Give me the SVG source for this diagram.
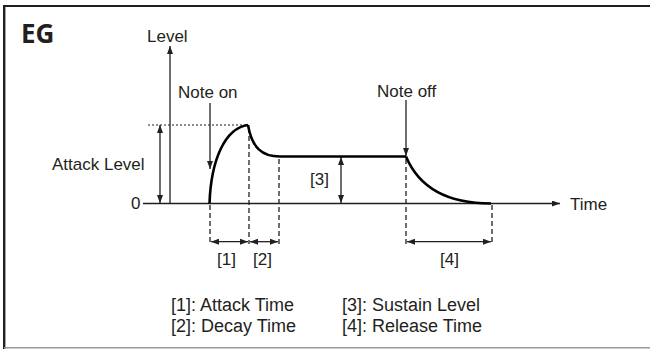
<svg xmlns="http://www.w3.org/2000/svg" width="650" height="349" viewBox="0 0 650 349">
<style>
text{font-family:"Liberation Sans",Arial,sans-serif;font-size:17px;fill:#231f20}
.leg{font-size:18px}
.ax{stroke:#231f20;stroke-width:1.3;fill:none}
.curve{stroke:#000;stroke-width:2.6;fill:none}
.dash{stroke:#231f20;stroke-width:1.3;stroke-dasharray:5 3;fill:none}
.dot{stroke:#231f20;stroke-width:1.2;stroke-dasharray:2 2;fill:none}
.arr{stroke:#231f20;stroke-width:1.3;fill:none;marker-end:url(#ah)}
.darr{stroke:#231f20;stroke-width:1.3;fill:none;marker-start:url(#ahs);marker-end:url(#ah)}
</style>
<defs>
<marker id="ah" viewBox="0 0 8 6" refX="8" refY="3" markerWidth="8" markerHeight="6" markerUnits="userSpaceOnUse" orient="auto"><path d="M0,0 L8,3 L0,6 Z" fill="#231f20"/></marker>
<marker id="ahs" viewBox="0 0 8 6" refX="0" refY="3" markerWidth="8" markerHeight="6" markerUnits="userSpaceOnUse" orient="auto"><path d="M8,0 L0,3 L8,6 Z" fill="#231f20"/></marker>
</defs>
<rect width="650" height="349" fill="#fff"/>
<g id="frame">
<line x1="3" y1="6" x2="650" y2="6" stroke="#231f20" stroke-width="2.2"/>
<line x1="4.2" y1="5" x2="4.2" y2="349" stroke="#231f20" stroke-width="2.4"/>
<line x1="4" y1="347.8" x2="650" y2="347.8" stroke="#999" stroke-width="1.6"/>
</g>
<g id="title"><text x="21" y="43" style="font-family:'Open Sans','DejaVu Sans',sans-serif;font-weight:bold;font-size:26px">EG</text></g>
<g id="connectors">
<line class="arr" x1="170" y1="203.5" x2="170" y2="46"/>
<line class="arr" x1="143" y1="203.5" x2="560" y2="203.5"/>
<line class="dot" x1="148" y1="125" x2="248" y2="125"/>
<line class="darr" x1="160" y1="125" x2="160" y2="203"/>
<line class="arr" x1="210" y1="103" x2="210" y2="169"/>
<line class="arr" x1="406" y1="100" x2="406" y2="156"/>
<line class="darr" x1="341" y1="157" x2="341" y2="203"/>
<line class="dash" x1="210" y1="205" x2="210" y2="244"/>
<line class="dash" x1="249" y1="128" x2="249" y2="244"/>
<line class="dash" x1="279" y1="159" x2="279" y2="244"/>
<line class="dash" x1="406" y1="159" x2="406" y2="244"/>
<line class="dash" x1="492" y1="205" x2="492" y2="244"/>
<line class="darr" x1="211" y1="241.7" x2="248" y2="241.7"/>
<line class="darr" x1="250" y1="241.7" x2="278" y2="241.7"/>
<line class="darr" x1="407" y1="241.7" x2="491" y2="241.7"/>
</g>
<g id="envelope">
<path class="curve" d="M209.5,203.5 C211,160 225,128 248,125"/>
<path class="curve" d="M248,125 C252,148 262,156.5 280,156.5 L406,156.5"/>
<path class="curve" d="M406,156.5 C420,190 450,203.5 491,203.5"/>
</g>
<g id="labels">
<text x="147" y="42">Level</text>
<text x="178" y="98">Note on</text>
<text x="377" y="97">Note off</text>
<text x="52" y="170">Attack Level</text>
<text x="131" y="209">0</text>
<text x="570" y="210">Time</text>
<text x="310" y="185">[3]</text>
<text x="217" y="265">[1]</text>
<text x="253" y="265">[2]</text>
<text x="440" y="265">[4]</text>
</g>
<g id="legend">
<text class="leg" x="171" y="311">[1]: Attack Time</text>
<text class="leg" x="171" y="332">[2]: Decay Time</text>
<text class="leg" x="342" y="311">[3]: Sustain Level</text>
<text class="leg" x="342" y="332">[4]: Release Time</text>
</g>
</svg>
